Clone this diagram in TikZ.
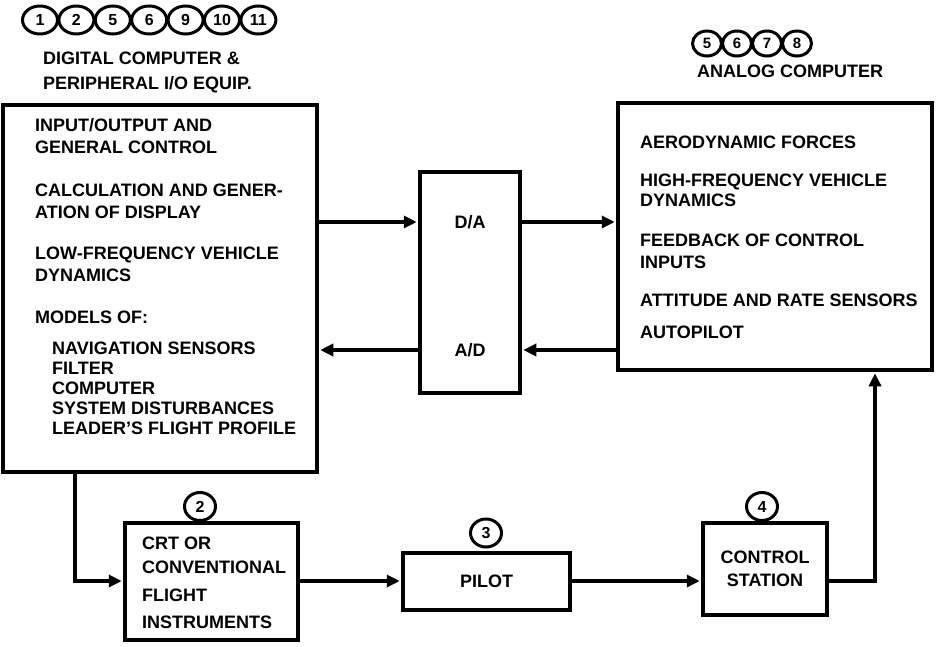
\documentclass[tikz,border=0pt]{standalone}
\usepackage{fontspec}
\setmainfont{Liberation Sans}
\usetikzlibrary{arrows.meta,shapes.geometric}
\begin{document}
\begin{tikzpicture}[x=1pt,y=-1pt,
  bx/.style={draw,line width=4.5pt,inner sep=0pt,rectangle,line join=miter},
  conn/.style={line width=3.5pt,shorten >=1pt,-{Triangle[length=13pt,width=12pt]}},
  lbl/.style={inner sep=0pt,anchor=base west,font=\fontsize{18}{18}\selectfont\bfseries},
  clbl/.style={inner sep=0pt,anchor=base,font=\fontsize{18}{18}\selectfont\bfseries},
  numL/.style={draw,ellipse,line width=3pt,inner sep=0pt,minimum width=35pt,minimum height=28pt,font=\fontsize{16}{16}\selectfont\bfseries},
  numR/.style={draw,ellipse,line width=3pt,inner sep=0pt,minimum width=29pt,minimum height=25pt,font=\fontsize{15}{15}\selectfont\bfseries},
  numB/.style={draw,ellipse,line width=3pt,inner sep=0pt,minimum width=31pt,minimum height=28pt,font=\fontsize{16}{16}\selectfont\bfseries},
]
\useasboundingbox (0,0) rectangle (936,647);

% boxes
\node[bx,minimum width=314pt,minimum height=367pt] (dig) at (160,288.5) {};
\node[bx,minimum width=100pt,minimum height=221pt] (da) at (470,282.5) {};
\node[bx,minimum width=314pt,minimum height=267pt] (an) at (775,236.5) {};
\node[bx,minimum width=173pt,minimum height=117pt] (crt) at (211.5,581.5) {};
\node[bx,minimum width=167pt,minimum height=57pt] (pil) at (486.5,581.5) {};
\node[bx,minimum width=124pt,minimum height=92pt] (ctl) at (765,569) {};

% circled numbers, top left
\foreach \n [count=\i from 0] in {1,2,5,6,9,10,11}
  \node[numL] (tl\i) at ({40+36.4*\i},20) {\n};
\node[lbl] (t1) at (43,64.5) {DIGITAL COMPUTER \&};
\node[lbl] (t2) at (43,89.5) {PERIPHERAL I/O EQUIP.};

% circled numbers, top right
\foreach \n [count=\i from 0] in {5,6,7,8}
  \node[numR] (tr\i) at ({707+30*\i},43.5) {\n};
\node[lbl] (t3) at (697,77.5) {ANALOG COMPUTER};

% text of digital computer box
\foreach \y/\t [count=\i] in {131.5/{INPUT/OUTPUT AND},153.5/{GENERAL CONTROL},196.5/{CALCULATION AND GENER-},218.5/{ATION OF DISPLAY},259.5/{LOW-FREQUENCY VEHICLE},281.5/{DYNAMICS},323.5/{MODELS OF:}}
  \node[lbl] (dl\i) at (35,\y) {\t};
\foreach \y/\t [count=\i] in {354.5/{NAVIGATION SENSORS},374.5/{FILTER},394.5/{COMPUTER},414.5/{SYSTEM DISTURBANCES},434.5/{LEADER'S FLIGHT PROFILE}}
  \node[lbl] (ml\i) at (52,\y) {\t};

% text of analog computer box
\foreach \y/\t [count=\i] in {148.5/{AERODYNAMIC FORCES},186.5/{HIGH-FREQUENCY VEHICLE},206.5/{DYNAMICS},246.5/{FEEDBACK OF CONTROL},268.5/{INPUTS},306.5/{ATTITUDE AND RATE SENSORS},338.5/{AUTOPILOT}}
  \node[lbl] (al\i) at (640,\y) {\t};

% converter labels
\node[clbl] (dal) at (470,228.5) {D/A};
\node[clbl] (adl) at (470,356.5) {A/D};

% CRT box text
\foreach \y/\t [count=\i] in {549.5/{CRT OR},573.5/{CONVENTIONAL},601.5/{FLIGHT},628.5/{INSTRUMENTS}}
  \node[lbl] (cl\i) at (142,\y) {\t};
\node[clbl] (pl) at (486.5,587.5) {PILOT};
\node[clbl] (sl1) at (765,563.5) {CONTROL};
\node[clbl] (sl2) at (765,586.5) {STATION};

% circled numbers over lower boxes
\node[numB] (c2) at (200,506.5) {2};
\node[numB] (c3) at (486,533) {3};
\node[numB] (c4) at (762,506.5) {4};

% connectors
\coordinate (ya) at (0,222);
\coordinate (yb) at (0,350);
\coordinate (yc) at (0,581);
\coordinate (xd) at (75,0);
\coordinate (xr) at (875,0);
\draw[conn] (dig.east |- ya) -- (da.west |- ya);
\draw[conn] (da.east |- ya) -- (an.west |- ya);
\draw[conn] (an.west |- yb) -- (da.east |- yb);
\draw[conn] (da.west |- yb) -- (dig.east |- yb);
\draw[conn] (dig.south -| xd) |- (crt.west |- yc);
\draw[conn] (crt.east |- yc) -- (pil.west |- yc);
\draw[conn] (pil.east |- yc) -- (ctl.west |- yc);
\draw[conn] (ctl.east |- yc) -| (an.south -| xr);
\end{tikzpicture}
\end{document}
